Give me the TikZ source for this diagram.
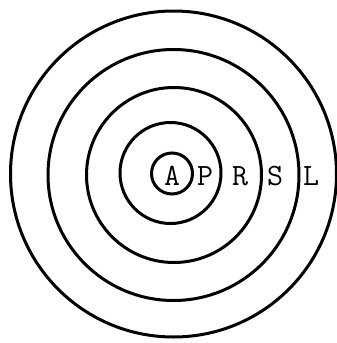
\documentclass[tikz,border=0pt]{standalone}
\usepackage{fontspec}
\begin{document}
\begin{tikzpicture}[x=1pt,y=-1pt,
  ring/.style={line width=3pt,draw=black},
  lab/.style={font=\ttfamily\fontsize{31}{31}\selectfont,inner sep=0pt,anchor=center}]
\useasboundingbox (0,0) rectangle (337,343);
\draw[ring] (173.5,174) circle (163);
\draw[ring] (173.5,175) circle (125.5);
\draw[ring] (174,175) circle (87.5);
\draw[ring] (170.5,173) circle (50.5);
\draw[ring] (172,173.5) circle (20.5);
\node[lab] (A) at (172,176) {A};
\node[lab] (P) at (205,176) {P};
\node[lab] (R) at (240,176) {R};
\node[lab] (S) at (275,176) {S};
\node[lab] (L) at (311,176) {L};
\end{tikzpicture}
\end{document}
